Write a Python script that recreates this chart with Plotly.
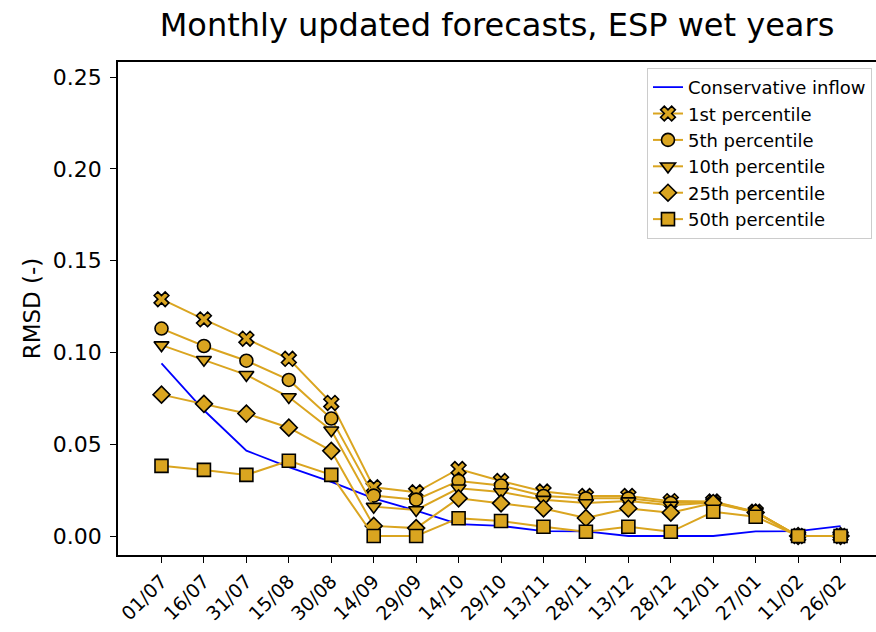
import plotly.graph_objects as go

dates = ['01/07', '16/07', '31/07', '15/08', '30/08', '14/09', '29/09', '14/10', '29/10',
         '13/11', '28/11', '13/12', '28/12', '12/01', '27/01', '11/02', '26/02']

conservative = [0.094, 0.0685, 0.0465, 0.0375, 0.0295, 0.0205, 0.0138, 0.0065, 0.0055,
                0.0027, 0.0025, 0.0, 0.0, 0.0, 0.0025, 0.0027, 0.0054]
p1 = [0.129, 0.118, 0.1075, 0.0965, 0.0725, 0.0265, 0.0238, 0.0365, 0.030,
      0.0242, 0.0218, 0.0218, 0.019, 0.0188, 0.0132, 0.0, 0.0]
p5 = [0.113, 0.1035, 0.0955, 0.085, 0.064, 0.022, 0.0198, 0.030, 0.0275,
      0.0218, 0.0205, 0.0205, 0.018, 0.0185, 0.013, 0.0, 0.0]
p10 = [0.104, 0.096, 0.0878, 0.0757, 0.0576, 0.016, 0.0142, 0.026, 0.024,
       0.0198, 0.018, 0.019, 0.0167, 0.0183, 0.013, 0.0, 0.0]
p25 = [0.077, 0.072, 0.0667, 0.059, 0.0464, 0.0055, 0.0043, 0.0205, 0.0178,
       0.015, 0.0098, 0.015, 0.0127, 0.018, 0.0128, 0.0, 0.0]
p50 = [0.0382, 0.036, 0.0333, 0.041, 0.0333, 0.0, 0.0, 0.0097, 0.0082,
       0.005, 0.0023, 0.005, 0.0023, 0.0132, 0.0105, 0.0, 0.0]

series = [
    ('1st percentile', p1, 'x'),
    ('5th percentile', p5, 'circle'),
    ('10th percentile', p10, 'triangle-down'),
    ('25th percentile', p25, 'diamond'),
    ('50th percentile', p50, 'square'),
]

gold = '#DAA520'
xs = list(range(len(dates)))

fig = go.Figure()
fig.add_trace(go.Scatter(x=xs, y=conservative, mode='lines', name='Conservative inflow',
                         line=dict(color='blue', width=1.8)))
for name, vals, sym in series:
    fig.add_trace(go.Scatter(x=xs, y=vals, mode='lines+markers', name=name,
                             line=dict(color=gold, width=2),
                             marker=dict(symbol=sym, size=13, color=gold,
                                         line=dict(color='black', width=1.6))))

font = "DejaVu Sans, sans-serif"
fig.update_layout(
    width=876, height=632,
    margin=dict(l=118, r=0, t=62, b=77),
    paper_bgcolor='white', plot_bgcolor='white',
    font=dict(family=font, color='black'),
    title=dict(text='Monthly updated forecasts, ESP wet years', x=0.5, xref='paper',
               xanchor='center', y=0.96, yanchor='middle',
               font=dict(size=32, family=font, color='black')),
    showlegend=True,
    legend=dict(x=0.9947, y=0.988, xanchor='right', yanchor='top',
                bgcolor='rgba(255,255,255,0.8)', bordercolor='#cccccc', borderwidth=1,
                font=dict(size=18, family=font)),
)
fig.update_xaxes(
    range=[-1.025, 16.835], tickmode='array', tickvals=xs, ticktext=dates,
    tickangle=-45, ticks='outside', ticklen=6, tickcolor='black',
    showline=True, linecolor='black', linewidth=1.5, mirror=True,
    showgrid=False, zeroline=False, tickfont=dict(size=19, family=font),
)
fig.update_yaxes(
    range=[-0.01035, 0.2582], tickmode='array',
    tickvals=[0, 0.05, 0.10, 0.15, 0.20, 0.25],
    ticktext=['0.00', '0.05', '0.10', '0.15', '0.20', '0.25'],
    ticks='outside', ticklen=6, tickcolor='black', ticklabelstandoff=4,
    showline=True, linecolor='black', linewidth=1.5, mirror=False,
    showgrid=False, zeroline=False, tickfont=dict(size=22, family=font),
    title=dict(text='RMSD (-)', font=dict(size=23, family=font), standoff=6),
)

fig.write_html("out.html", config={'displayModeBar': False},
               post_script="document.body.style.margin='0px';")
